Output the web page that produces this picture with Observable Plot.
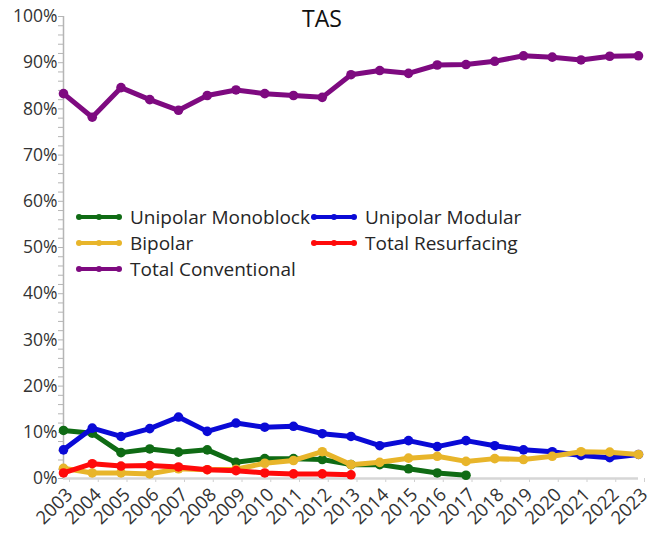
<!DOCTYPE html>
<html>
<head>
<meta charset="utf-8">
<script src="https://cdn.jsdelivr.net/npm/d3@7"></script>
<script src="https://cdn.jsdelivr.net/npm/@observablehq/plot@0.6"></script>
<style>
  body { margin: 0; background: #fff; }
  #wrap { position: relative; width: 657px; height: 537px; font-family: "Open Sans", sans-serif; }
  #title { position: absolute; left: 322px; top: 2px; transform: translateX(-50%); font-size: 23px; color: #111; }
  #legend { position: absolute; left: 0; top: 0; width: 657px; height: 537px; pointer-events: none; }
  .item { position: absolute; display: flex; align-items: center; font-size: 19px; color: #262626; white-space: nowrap; }
  .item svg { margin-right: 7px; }
</style>
</head>
<body>
<div id="wrap">
  <div id="chart"></div>
  <div id="title">TAS</div>
  <div id="legend"></div>
</div>
<script>
const years = d3.range(2003, 2024);
const seriesNames = ["Unipolar Monoblock", "Unipolar Modular", "Bipolar", "Total Resurfacing", "Total Conventional"];
const seriesColors = ["#0f6b14", "#0a0ad6", "#e8b52a", "#ff0a0a", "#7e0a80"];

const unipolarMonoblock = [10.4, 9.8, 5.6, 6.4, 5.7, 6.2, 3.5, 4.3, 4.3, 4.1, 3.0, 3.0, 2.1, 1.2, 0.7];
const unipolarModular   = [6.2, 10.9, 9.1, 10.8, 13.3, 10.2, 12.0, 11.1, 11.3, 9.7, 9.1, 7.1, 8.2, 6.9, 8.2, 7.1, 6.2, 5.8, 5.0, 4.5, 5.2];
const bipolar           = [2.2, 1.2, 1.2, 1.0, 2.1, 1.9, 2.0, 3.3, 3.9, 5.8, 3.0, 3.5, 4.4, 4.8, 3.7, 4.3, 4.1, 4.8, 5.8, 5.7, 5.2];
const totalResurfacing  = [1.2, 3.2, 2.7, 2.8, 2.5, 1.9, 1.7, 1.2, 1.0, 1.0, 0.8];
const totalConventional = [83.3, 78.2, 84.6, 82.0, 79.7, 82.9, 84.1, 83.3, 82.9, 82.5, 87.4, 88.3, 87.7, 89.5, 89.6, 90.3, 91.5, 91.2, 90.6, 91.4, 91.5];

const yTicks = d3.range(0, 101, 2);
const seriesValues = [unipolarMonoblock, unipolarModular, bipolar, totalResurfacing, totalConventional];

const marks = [
  Plot.axisY({ticks: yTicks, tickFormat: d => d % 10 === 0 ? d + "%" : "", tickSize: 5, tickPadding: 1, fontSize: 17.5, stroke: "#b5b5b5", color: "#333", label: null}),
  Plot.axisX({ticks: years, tickFormat: d => String(d), tickRotate: -45, tickSize: 4, tickPadding: 9, dx: 6, fontSize: 18.5, stroke: "#d0d0d0", color: "#333", label: null}),
  Plot.ruleX([years[0]], {stroke: "#b5b5b5", strokeWidth: 1.5}),
  Plot.ruleY([0], {stroke: "#d6d6d6", strokeWidth: 2.5})
];
seriesNames.forEach((name, i) => {
  const data = seriesValues[i].map((v, j) => ({year: years[j], value: v, series: name}));
  marks.push(Plot.line(data, {x: "year", y: "value", stroke: "series", strokeWidth: 5, strokeLinejoin: "round"}));
  marks.push(Plot.dot(data, {x: "year", y: "value", fill: "series", r: 4.8, stroke: "none"}));
});

const chart = Plot.plot({
  width: 657,
  height: 537,
  marginLeft: 63,
  marginRight: 19,
  marginTop: 16,
  marginBottom: 59,
  style: {fontFamily: "'Open Sans', sans-serif", background: "#fff"},
  x: {domain: [years[0], years[years.length - 1]]},
  y: {domain: [0, 100]},
  color: {domain: seriesNames, range: seriesColors},
  marks
});
document.getElementById("chart").appendChild(chart);

// legend (overlaid inside the plot area, as in the reference)
const legendPos = [[75, 218], [310, 218], [75, 244], [310, 244], [75, 270]];
const legend = document.getElementById("legend");
seriesNames.forEach((name, i) => {
  const it = document.createElement("div");
  it.className = "item";
  it.style.left = legendPos[i][0] + "px";
  it.style.top = (legendPos[i][1] - 14) + "px";
  const c = seriesColors[i];
  it.innerHTML = `<svg width="48" height="10"><line x1="2" y1="5" x2="46" y2="5" stroke="${c}" stroke-width="4"/>` +
    `<circle cx="4" cy="5" r="3" fill="${c}"/><circle cx="24" cy="5" r="3" fill="${c}"/><circle cx="44" cy="5" r="3" fill="${c}"/></svg>` +
    `<span>${name}</span>`;
  legend.appendChild(it);
});
</script>
</body>
</html>
